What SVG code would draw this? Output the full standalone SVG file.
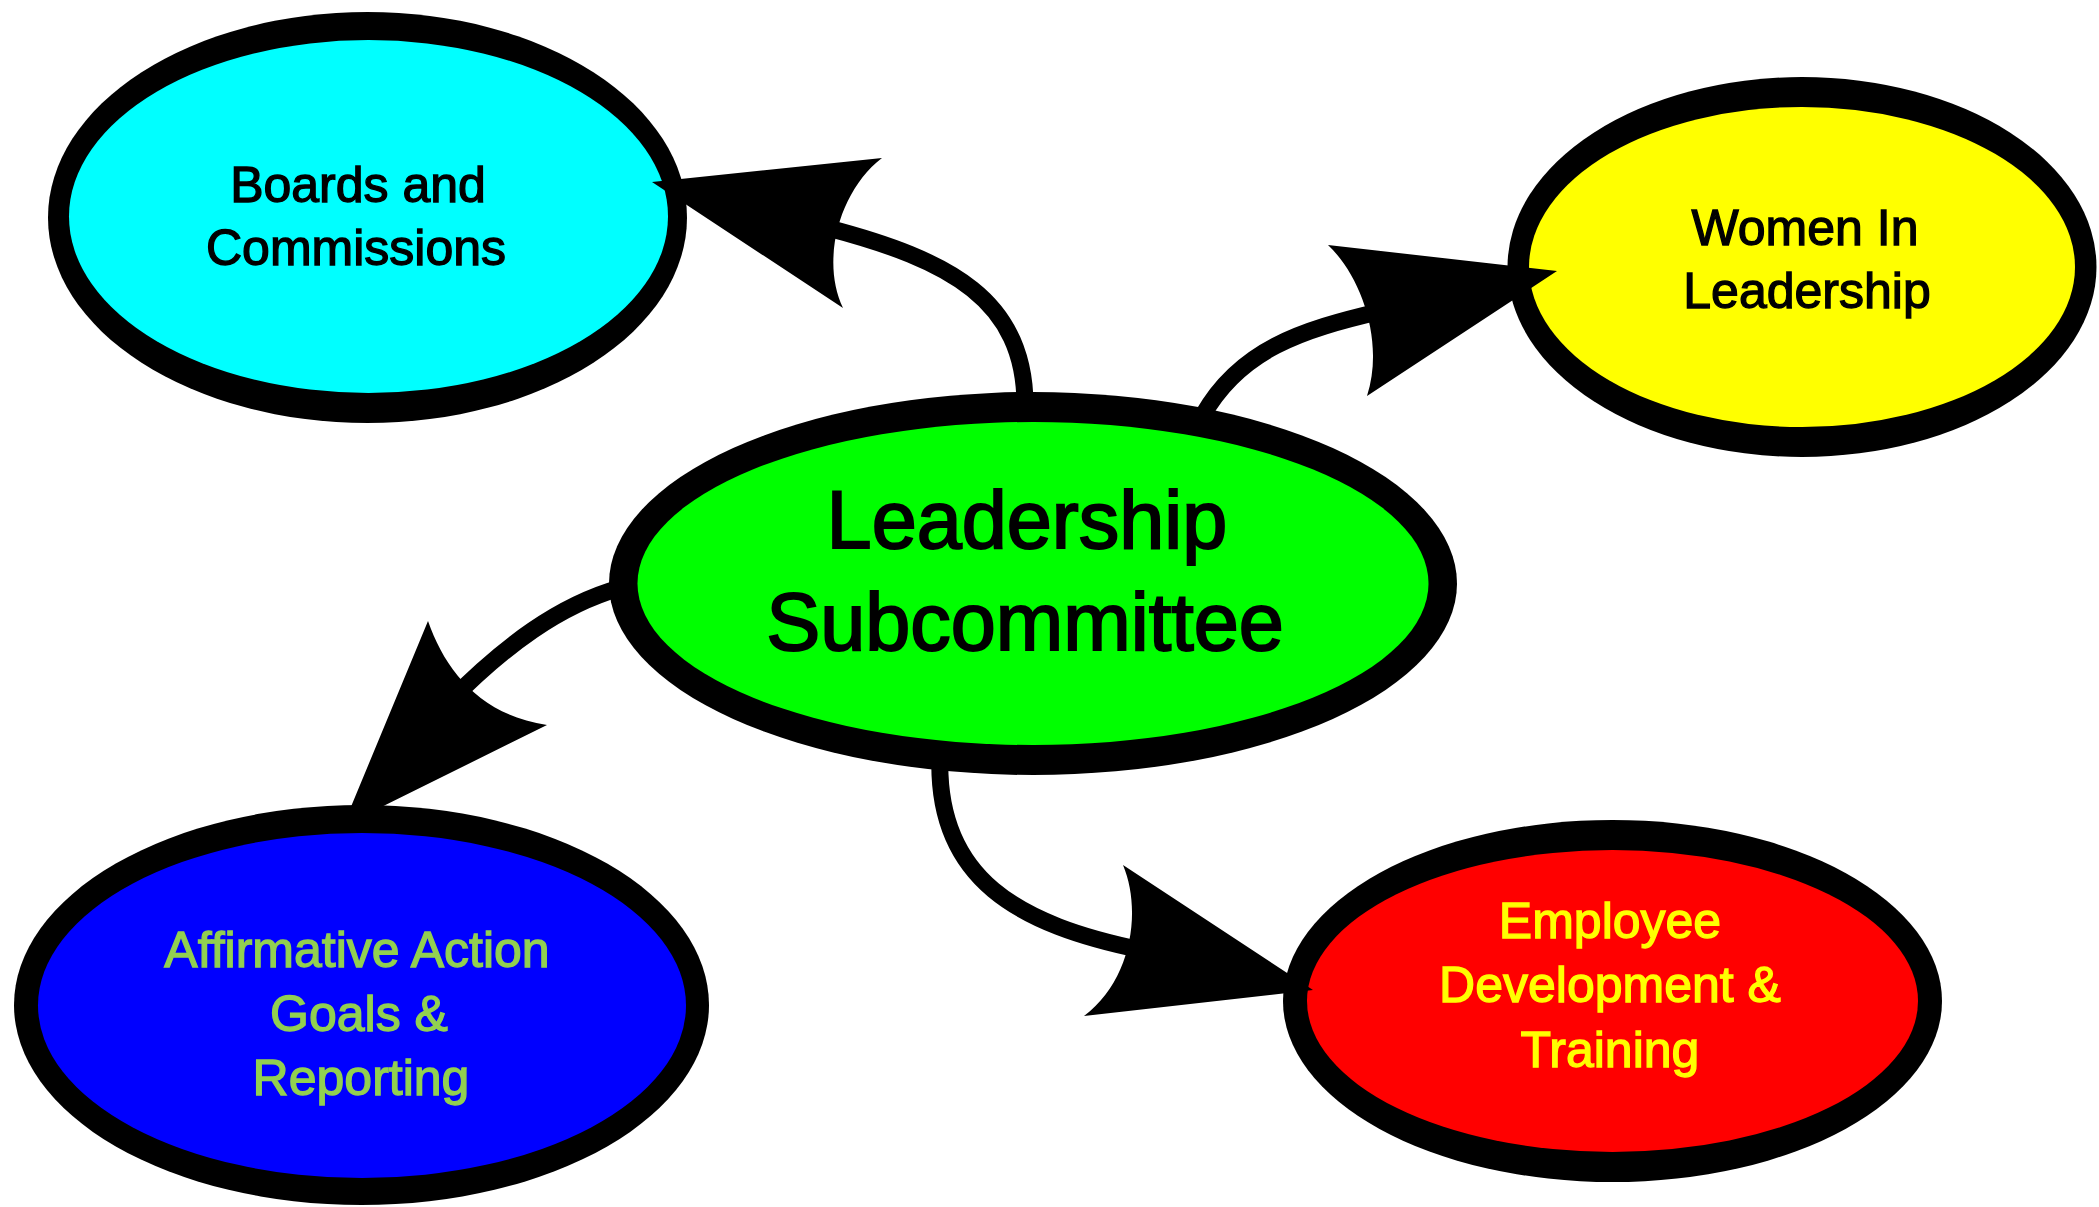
<svg xmlns="http://www.w3.org/2000/svg" width="2099" height="1207" viewBox="0 0 2099 1207">
<style>
.ring{fill:#000}
.lbl{font-family:"Liberation Sans",Arial,sans-serif;font-size:50px;text-anchor:middle;stroke-width:1.3px;paint-order:stroke}
.big{font-size:81px;stroke-width:2px}
.line{fill:none;stroke:#000;stroke-width:17}
.head{fill:#000;stroke:none}
</style>
<rect width="2099" height="1207" fill="#fff"/>
<g id="boards">
<ellipse class="ring" cx="367.5" cy="217.5" rx="319.5" ry="205.5"/>
<ellipse cx="368.5" cy="216.5" rx="299.5" ry="176.5" fill="#00FFFF"/>
<text class="lbl" fill="#000" stroke="#000"><tspan x="358" y="202">Boards and</tspan><tspan x="356" y="265">Commissions</tspan></text>
</g>
<g id="women">
<ellipse class="ring" cx="1802" cy="267" rx="294.5" ry="190"/>
<ellipse cx="1802" cy="267" rx="273" ry="160" fill="#FFFF00"/>
<text class="lbl" fill="#000" stroke="#000"><tspan x="1805" y="245">Women In</tspan><tspan x="1807" y="308">Leadership</tspan></text>
</g>
<g id="leadership">
<ellipse class="ring" cx="1033" cy="583.5" rx="424" ry="191.5"/>
<ellipse cx="1033" cy="583.5" rx="395.5" ry="161.5" fill="#00FF00"/>
<text class="lbl big" fill="#000" stroke="#000"><tspan x="1027" y="548">Leadership</tspan><tspan x="1025" y="650">Subcommittee</tspan></text>
</g>
<g id="affirmative">
<ellipse class="ring" cx="361.5" cy="1005" rx="347.5" ry="200"/>
<ellipse cx="362" cy="1005.5" rx="324" ry="172.5" fill="#0000FF"/>
<text class="lbl" fill="#92D050" stroke="#92D050"><tspan x="357" y="967">Affirmative Action</tspan><tspan x="359" y="1031">Goals &amp;</tspan><tspan x="361" y="1095">Reporting</tspan></text>
</g>
<g id="employee">
<ellipse class="ring" cx="1612.5" cy="1001" rx="329.5" ry="181"/>
<ellipse cx="1612.5" cy="1001" rx="305.5" ry="151" fill="#FF0000"/>
<text class="lbl" fill="#FFFF00" stroke="#FFFF00"><tspan x="1610" y="938">Employee</tspan><tspan x="1610" y="1002">Development &amp;</tspan><tspan x="1610" y="1067">Training</tspan></text>
</g>
<g id="connectors">
<path class="line" d="M1025,405 C1025,300 950,260 828,228"/>
<path class="head" d="M652,182 L882,158 C840,190 820,260 843,308 Z"/>
<path class="line" d="M1203,415 C1240,350 1300,330 1382,311"/>
<path class="head" d="M1557,271 L1328,245 C1360,275 1385,340 1367,396 Z"/>
<path class="line" d="M620,588 C560,605 505,645 448,703"/>
<path class="head" d="M343,826 L428,621 C445,670 480,715 547,725 Z"/>
<path class="line" d="M940,755 C935,880 1020,925 1142,950"/>
<path class="head" d="M1313,990 L1123,865 C1142,910 1132,980 1084,1016 Z"/>
</g>
</svg>
